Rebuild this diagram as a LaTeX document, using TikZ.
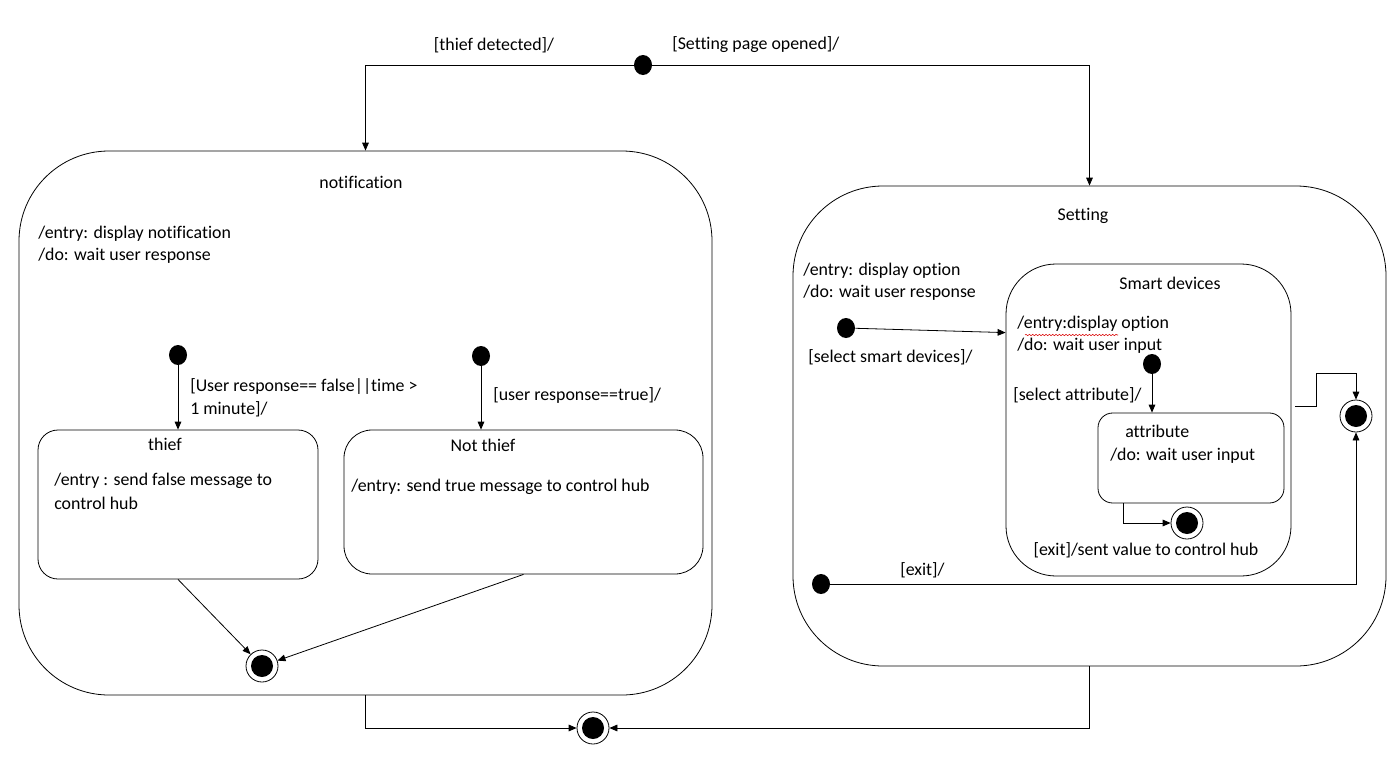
\documentclass[tikz,border=0pt]{standalone}
\usepackage{fontspec}
\setmainfont{Carlito}[Ligatures={NoCommon,NoContextual}]
\usetikzlibrary{arrows.meta,calc,shapes.geometric,decorations.pathmorphing}

\begin{document}
\begin{tikzpicture}[x=0.75pt,y=-0.75pt,
  box/.style={draw, line width=0.6pt, inner sep=0pt},
  init/.style={ellipse, fill=black, inner sep=0pt, minimum width=13.5pt, minimum height=15pt},
  final/.style={circle, draw, line width=0.6pt, inner sep=0pt, minimum size=24pt,
    path picture={\fill (path picture bounding box.center) circle (8.25pt);}},
  arr/.style={-{Triangle[length=6pt,width=5pt]}, line width=0.6pt},
  txt/.style={inner sep=0pt, yshift=-1.5pt, font=\fontsize{13.4pt}{16pt}\selectfont},
  lt/.style={txt, anchor=west}]
\useasboundingbox (0,0) rectangle (1396,782);

% composite states
\node[box, rounded corners=67.5pt, minimum width=519.75pt, minimum height=408pt] (notif) at (365.5,423) {};
\node[box, rounded corners=67.5pt, minimum width=444.75pt, minimum height=360pt] (setting) at (1089.5,426) {};

% simple states inside "notification"
\node[box, rounded corners=15pt, minimum width=210pt, minimum height=111.75pt] (thief) at (178,504.5) {};
\node[box, rounded corners=21pt, minimum width=269.25pt, minimum height=108pt] (nthief) at (523.5,502) {};

% nested states inside "Setting"
\node[box, rounded corners=37.5pt, minimum width=213.75pt, minimum height=234pt] (smart) at (1148.5,420) {};
\node[box, rounded corners=11pt, minimum width=139.5pt, minimum height=67.5pt] (attr) at (1191,458) {};

% initial pseudo-states
\node[init] (top) at (643,65) {};
\node[init] (i1) at (178,355) {};
\node[init] (i2) at (481,356) {};
\node[init] (si) at (846,328) {};
\node[init] (ai) at (1152,364) {};
\node[init] (xi) at (821,584) {};

% final states
\node[final] (nf) at (262,666) {};
\node[final] (bf) at (593,728) {};
\node[final] (af) at (1187,523) {};
\node[final] (sf) at (1356,416) {};

% transitions
\draw[arr] (top) -| (notif.north);
\draw[arr] (top) -| (setting.north);
\draw[arr] (i1) -- (thief.north);
\draw[arr] (i2) -- (i2 |- nthief.north);
\draw[arr] (thief.south) -- (nf);
\draw[arr] (nthief.south) -- (nf);
\draw[arr] (notif.south) |- (bf);
\draw[arr] (setting.south) |- (bf);
\coordinate (smartin) at ($(smart.north west)+(0,69)$);
\draw[arr] (si) -- (smartin);
\draw[arr] (ai) -- (ai |- attr.north);
\coordinate (attrout) at ($(attr.south west)+(26,0)$);
\draw[arr] (attrout) |- (af);
\coordinate (smartout) at ($(smart.east)+(4,-14)$);
\draw[arr] (smartout) -- ++(21,0) -- ++(0,-33) -| (sf.north);
\draw[arr] (xi) -| (sf.south);

% transition labels
\node[txt] (lthief) at (494,43) {[thief detected]/};
\node[lt] (lset) at (672,43) {[Setting page opened]/};
\node[lt] (lur1) at (190,385) {[User response== false||time >};
\node[lt] (lur2) at (190,407) {1 minute]/};
\node[lt] (lurt) at (493,393) {[user response==true]/};
\node[lt] (lssd) at (808,355) {[select smart devices]/};
\node[lt] (lsat) at (1013,393) {[select attribute]/};
\node[txt] (lsent) at (1146,548) {[exit]/sent value to control hub};
\node[lt] (lexit) at (900,568) {[exit]/};

% state texts
\node[txt] (tnotif) at (361,180) {notification};
\node[lt] (tn1) at (38,232) {/entry: display notification};
\node[lt] (tn2) at (38,254) {/do: wait user response};
\node[txt] (tthief) at (165,442) {thief};
\node[lt] (tt1) at (54,479) {/entry : send false message to};
\node[lt] (tt2) at (54,501) {control hub};
\node[txt] (tnt) at (483,443) {Not thief};
\node[lt] (tnt1) at (351,485) {/entry: send true message to control hub};
\node[txt] (tset) at (1083,214) {Setting};
\node[lt] (ts1) at (803,269) {/entry: display option};
\node[lt] (ts2) at (803,291) {/do: wait user response};
\node[txt] (tsd) at (1170,281) {Smart devices};
\node[lt] (tsd1) at (1017,322) {/entry:display option};
\node[lt] (tsd2) at (1017,344) {/do: wait user input};
\node[lt] (tat) at (1125,429) {attribute};
\node[lt] (tat1) at (1110,454) {/do: wait user input};

% spelling mark under "entry:display"
\draw[red!85!black, line width=0.4pt, decorate, decoration={snake, amplitude=0.5pt, segment length=2.5pt}]
  ($(tsd1.west)+(8,11)$) -- ($(tsd1.west)+(101,11)$);
\end{tikzpicture}
\end{document}
